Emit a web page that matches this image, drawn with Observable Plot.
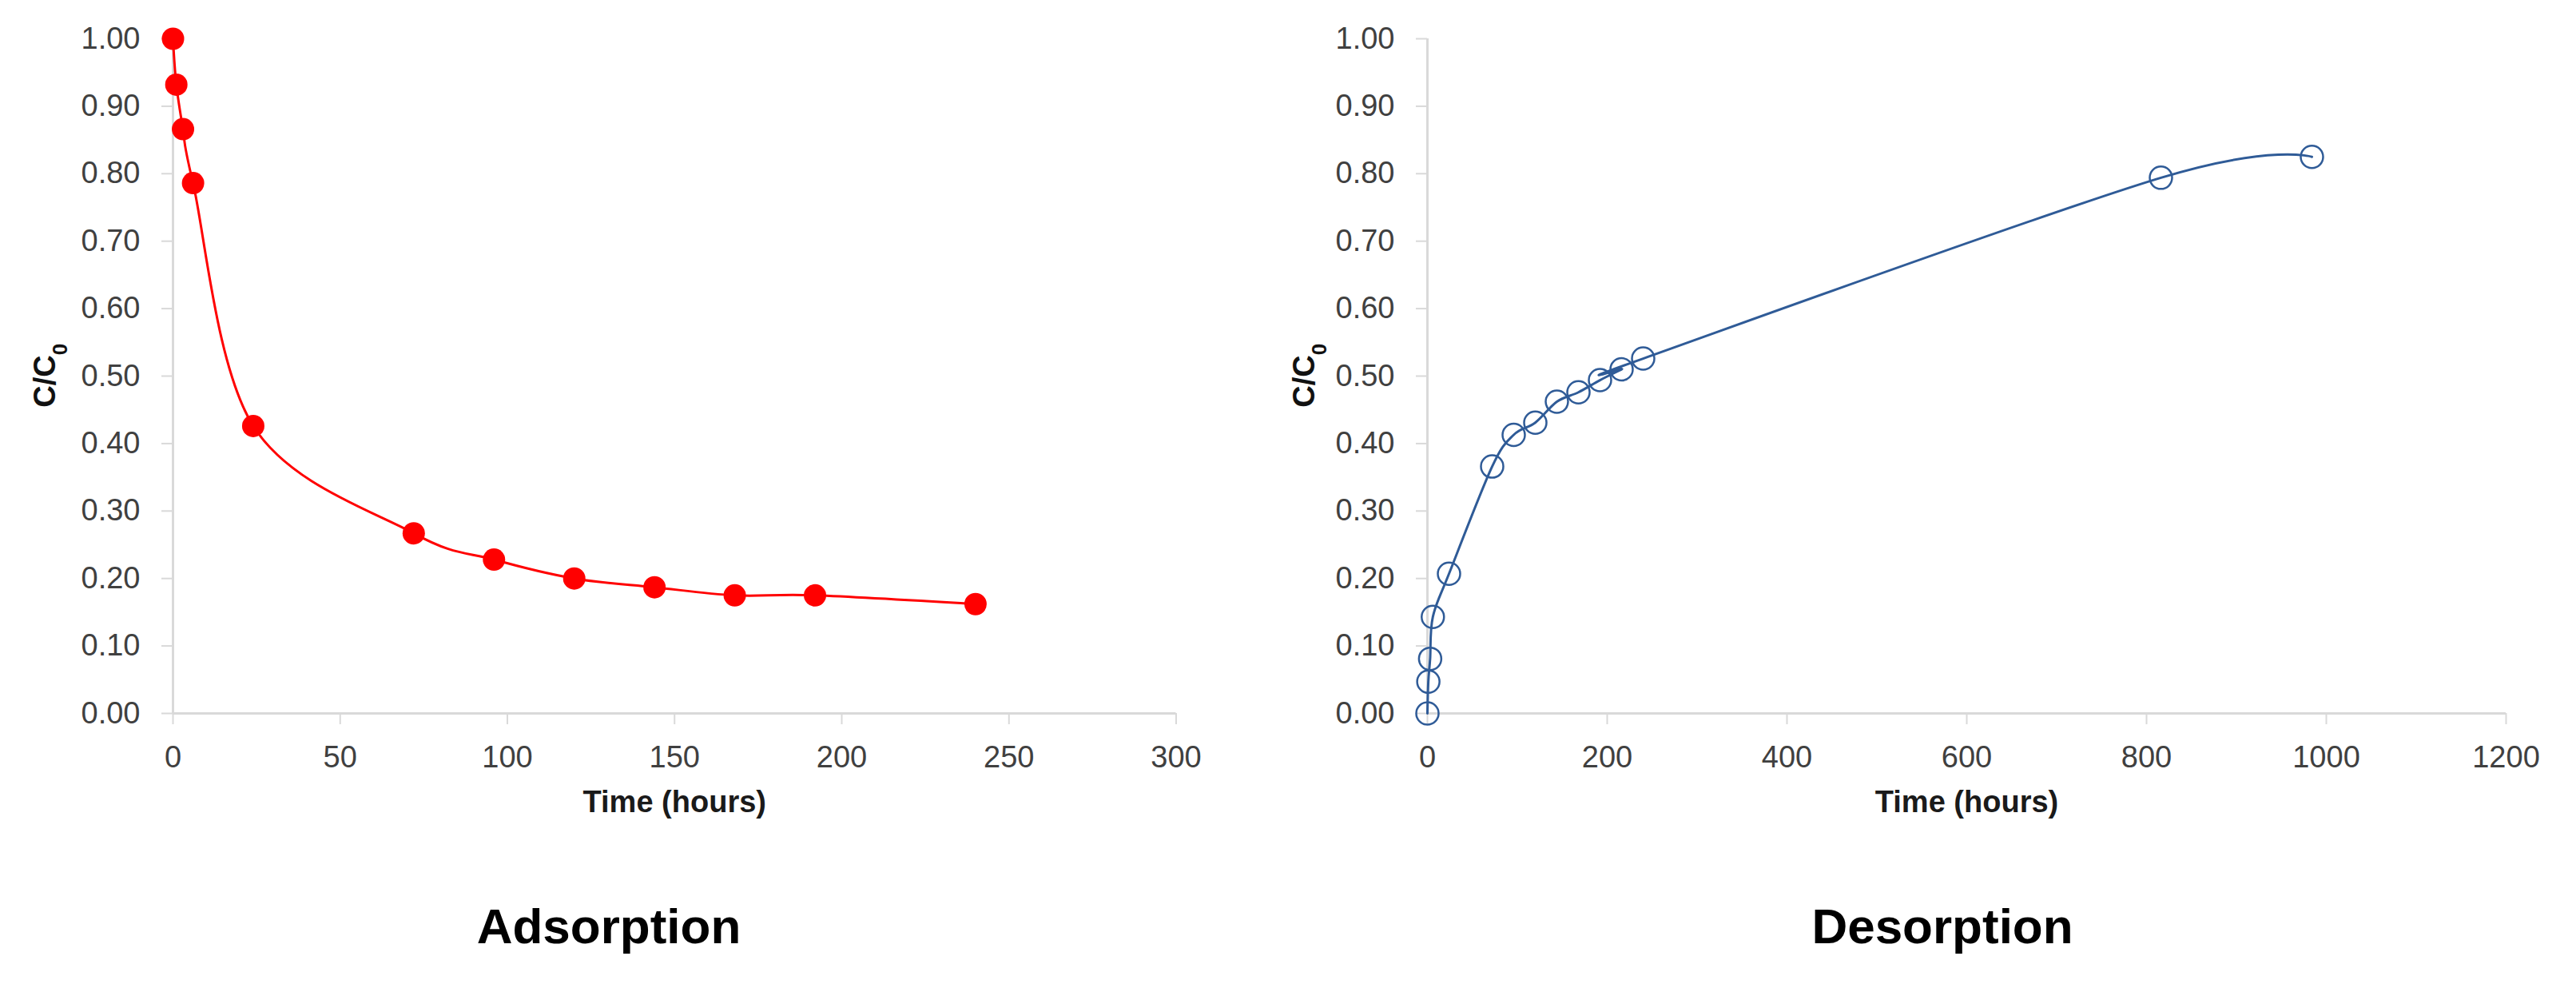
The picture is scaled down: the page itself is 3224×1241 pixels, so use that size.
<!DOCTYPE html>
<html>
<head>
<meta charset="utf-8">
<script src="https://cdn.jsdelivr.net/npm/d3@7"></script>
<script src="https://cdn.jsdelivr.net/npm/@observablehq/plot@0.6"></script>
<style>
  html, body { margin: 0; padding: 0; background: #fff; }
  #page { position: relative; width: 3224px; height: 1241px; overflow: hidden; background: #fff; }
  .panel { position: absolute; top: 0; }
  .title { position: absolute; top: 1128px; font-family: "Liberation Sans", Arial, sans-serif;
           font-weight: bold; font-size: 62px; line-height: 1; color: #000; transform: translateX(-50%); white-space: nowrap; }
</style>
</head>
<body>
<div id="page">
  <div id="left" class="panel" style="left:0px"></div>
  <div id="right" class="panel" style="left:1612px"></div>
  <div class="title" id="t1" style="left:762px"></div>
  <div class="title" id="t2" style="left:2431px"></div>
</div>
<script>
// ---- data ----
const adsTime  = [0, 1, 3, 6, 24, 72, 96, 120, 144, 168, 192, 240];
const adsRatio = [1.000, 0.932, 0.866, 0.786, 0.426, 0.267, 0.228, 0.200, 0.187, 0.175, 0.175, 0.162];

const desTime  = [0, 1, 3, 6, 24, 72, 96, 120, 144, 168, 192, 216, 240, 816, 984];
const desRatio = [0.000, 0.047, 0.081, 0.143, 0.207, 0.366, 0.413, 0.431, 0.462, 0.476, 0.494, 0.510, 0.526, 0.794, 0.825];

const yTicks   = [0, 0.1, 0.2, 0.3, 0.4, 0.5, 0.6, 0.7, 0.8, 0.9, 1.0];
const adsXTicks = [0, 50, 100, 150, 200, 250, 300];
const desXTicks = [0, 200, 400, 600, 800, 1000, 1200];

const xLabel = "Time (hours)";
const yLabelMain = "C/C";
const yLabelSub = "0";
const panelTitles = ["Adsorption", "Desorption"];

const adsData = adsTime.map((t, i) => ({t, c: adsRatio[i]}));
const desData = desTime.map((t, i) => ({t, c: desRatio[i]}));

const axisGrey = "#d9d9d9";
const labelGrey = "#404040";

function makeChart({data, xDomain, xTicks, marginLeft, marginRight, color, filled, yLabelX, curve}) {
  const chart = Plot.plot({
    width: 1612,
    height: 1052,
    marginLeft,
    marginRight,
    marginTop: 48,
    marginBottom: 160,
    style: {fontFamily: "'Liberation Sans', Arial, sans-serif", fontSize: "38px", background: "white", overflow: "visible"},
    x: {domain: xDomain},
    y: {domain: [0, 1]},
    marks: [
      Plot.axisX({ticks: xTicks, tickSize: 14, tickPadding: 27, stroke: axisGrey, strokeWidth: 2, fill: labelGrey, label: null, tickFormat: d3.format("d")}),
      Plot.axisY({ticks: yTicks, tickSize: 14, tickPadding: 27, stroke: axisGrey, strokeWidth: 2, fill: labelGrey, label: null, tickFormat: d3.format(".2f")}),
      Plot.ruleY([0], {stroke: axisGrey, strokeWidth: 3}),
      Plot.ruleX([0], {stroke: axisGrey, strokeWidth: 3}),
      Plot.line(data, {x: "t", y: "c", curve, stroke: color, strokeWidth: 3}),
      filled
        ? Plot.dot(data, {x: "t", y: "c", r: 14, fill: color, stroke: "none"})
        : Plot.dot(data, {x: "t", y: "c", r: 14, fill: "none", stroke: color, strokeWidth: 2.5}),
      Plot.text([xLabel], {frameAnchor: "bottom", dy: 123, fontWeight: "bold", fontSize: 38, fill: "#1a1a1a"})
    ]
  });
  // rotated y-axis label with subscript
  const svg = d3.select(chart);
  const t = svg.append("text")
    .attr("transform", `translate(${yLabelX},${(48 + 891.5) / 2}) rotate(-90)`)
    .attr("text-anchor", "middle")
    .attr("font-family", "'Liberation Sans', Arial, sans-serif")
    .attr("font-weight", "bold")
    .attr("font-size", 38)
    .attr("fill", "#111");
  t.append("tspan").text(yLabelMain);
  t.append("tspan").attr("font-size", 26).attr("baseline-shift", "sub").text(yLabelSub);
  return chart;
}

document.getElementById("left").appendChild(makeChart({
  data: adsData, xDomain: [0, 300], xTicks: adsXTicks,
  marginLeft: 216, marginRight: 140.5, color: "#ff0000", filled: true, yLabelX: 69, curve: "cardinal"
}));
document.getElementById("right").appendChild(makeChart({
  data: desData, xDomain: [0, 1200], xTicks: desXTicks,
  marginLeft: 174, marginRight: 88, color: "#2f5b97", filled: false, yLabelX: 33, curve: "cardinal"
}));
document.getElementById("t1").textContent = panelTitles[0];
document.getElementById("t2").textContent = panelTitles[1];
</script>
</body>
</html>
